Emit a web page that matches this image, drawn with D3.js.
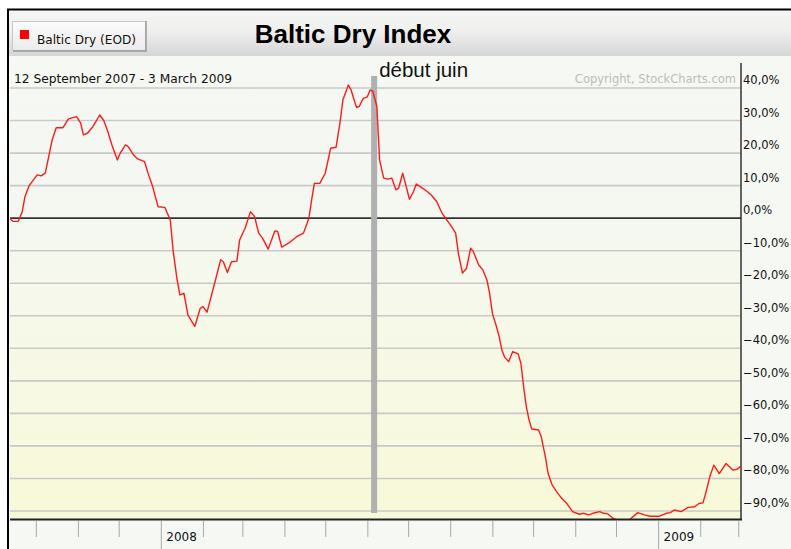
<!DOCTYPE html>
<html>
<head>
<meta charset="utf-8">
<script src="https://cdn.jsdelivr.net/npm/d3@7"></script>
<style>
  body { margin: 0; background: #fff; }
  text { font-family: "DejaVu Sans", Verdana, sans-serif; }
</style>
</head>
<body>
<div id="chart"></div>
<script>
// Baltic Dry Index, % change since 12 Sep 2007
const dates = [
  '2007-09-12','2007-09-14','2007-09-18','2007-09-21','2007-09-23','2007-09-26',
  '2007-10-02','2007-10-05','2007-10-08','2007-10-10','2007-10-13','2007-10-16',
  '2007-10-21','2007-10-25','2007-10-31','2007-11-03','2007-11-05','2007-11-08',
  '2007-11-12','2007-11-17','2007-11-20','2007-11-23','2007-11-26','2007-11-30',
  '2007-12-02','2007-12-06','2007-12-08','2007-12-12','2007-12-15','2007-12-20',
  '2007-12-23','2007-12-26','2007-12-30','2008-01-04','2008-01-08','2008-01-10',
  '2008-01-13','2008-01-15','2008-01-18','2008-01-21','2008-01-26','2008-01-30',
  '2008-02-01','2008-02-04','2008-02-09','2008-02-14','2008-02-16','2008-02-19',
  '2008-02-22','2008-02-26','2008-02-28','2008-03-03','2008-03-07','2008-03-10',
  '2008-03-13','2008-03-16','2008-03-20','2008-03-25','2008-03-27','2008-03-30',
  '2008-04-04','2008-04-10','2008-04-15','2008-04-19','2008-04-21','2008-04-23',
  '2008-04-27','2008-05-01','2008-05-05','2008-05-09','2008-05-12','2008-05-14',
  '2008-05-18','2008-05-20','2008-05-24','2008-05-26','2008-05-29','2008-06-01',
  '2008-06-03','2008-06-05','2008-06-08','2008-06-10','2008-06-13','2008-06-16',
  '2008-06-19','2008-06-22','2008-06-24','2008-06-27','2008-06-29','2008-07-02',
  '2008-07-05','2008-07-07','2008-07-11','2008-07-15','2008-07-18','2008-07-22',
  '2008-07-26','2008-07-29','2008-08-02','2008-08-05','2008-08-07','2008-08-10',
  '2008-08-13','2008-08-16','2008-08-18','2008-08-22','2008-08-25','2008-08-28',
  '2008-08-30','2008-09-01','2008-09-04','2008-09-06','2008-09-08','2008-09-10',
  '2008-09-13','2008-09-16','2008-09-20','2008-09-22','2008-09-24','2008-09-26',
  '2008-09-28','2008-09-30','2008-10-05','2008-10-07','2008-10-10','2008-10-12',
  '2008-10-15','2008-10-18','2008-10-22','2008-10-26','2008-10-30','2008-11-04',
  '2008-11-07','2008-11-11','2008-11-14','2008-11-19','2008-11-22','2008-11-25',
  '2008-11-29','2008-12-03','2008-12-07','2008-12-11','2008-12-12','2008-12-17',
  '2008-12-22','2008-12-26','2009-01-02','2009-01-07','2009-01-10','2009-01-13',
  '2009-01-18','2009-01-23','2009-01-28','2009-01-31','2009-02-03','2009-02-05',
  '2009-02-08','2009-02-11','2009-02-15','2009-02-20','2009-02-25','2009-02-28',
  '2009-03-03'
];
const values = [
  0, -1, -1, 2, 6.6, 9.9,
  13.3, 13, 13.9, 17.9, 24, 27.8,
  27.8, 30.5, 31.2, 29.2, 25.6, 26.1,
  28.1, 31.7, 30, 26.6, 22.5, 17.9,
  19.9, 22.5, 22, 19.4, 18.2, 17.4,
  13.3, 9.7, 3.5, 3.3, -0.6, -9.8,
  -19, -23.6, -23.1, -29.8, -33.3, -27.7,
  -27.2, -28.9, -21, -12.8, -13.4, -16.7,
  -13.4, -13.2, -6.7, -3.1, 2, 0.5,
  -4.6, -6.2, -9.5, -3.9, -4.1, -8.9,
  -7.7, -5.7, -4.6, 0, 5.6, 10.7,
  10.7, 13.8, 21.5, 21.8, 29.7, 36.3,
  40.9, 39.4, 34.1, 34.3, 36.8, 37.3,
  39.4, 39, 34.3, 17.9, 12.3, 12,
  12.3, 8.7, 9.2, 13.8, 10.7, 5.8,
  8.2, 10.5, 9.4, 8.2, 7.1, 5.1,
  1.5, -0.3, -2.6, -4.6, -10.8, -16.9,
  -15.4, -9.2, -10.3, -14.4, -15.9, -19,
  -23.1, -29.2, -33.3, -36.4, -40.5, -42.7,
  -44.1, -41, -41.7, -44.6, -51.8, -57.9,
  -62, -64.8, -65.1, -67.2, -73.3, -78.4,
  -82, -83.9, -86.1, -87.8, -90.2, -91,
  -90.7, -91.2, -90.7, -90.2, -90.7, -90.9,
  -92.3, -93, -93.2, -92.8, -92.3, -90.5,
  -91.2, -91.6, -91.6, -90.7, -90.5, -89.7,
  -90.2, -88.9, -88.7, -87.7, -87.5, -84.6,
  -79.5, -75.9, -78.5, -75.4, -77.4, -77.2,
  -76.2
];
const yTicks = [40, 30, 20, 10, 0, -10, -20, -30, -40, -50, -60, -70, -80, -90];
const chartTitle = 'Baltic Dry Index';
const seriesName = 'Baltic Dry (EOD)';
const dateRange = '12 September 2007 - 3 March 2009';
const copyright = 'Copyright, StockCharts.com';
const markerDate = '2008-06-06';
const markerLabel = 'début juin';

var W = 791, H = 549;
var plot = { left: 10, right: 741, top: 63, bottom: 519 };
var parse = d3.timeParse('%Y-%m-%d');
var arial = '"Liberation Sans", Arial, sans-serif';

var svg = d3.select('#chart').append('svg')
  .attr('width', W).attr('height', H);

var defs = svg.append('defs');

var headGrad = defs.append('linearGradient').attr('id', 'headGrad')
  .attr('x1', 0).attr('y1', 0).attr('x2', 0).attr('y2', 1);
headGrad.append('stop').attr('offset', '0').attr('stop-color', '#f5f7f4');
headGrad.append('stop').attr('offset', '0.45').attr('stop-color', '#eeefee');
headGrad.append('stop').attr('offset', '1').attr('stop-color', '#d5d6d5');

var plotGrad = defs.append('linearGradient').attr('id', 'plotGrad')
  .attr('x1', 0).attr('y1', 0).attr('x2', 0).attr('y2', 1);
plotGrad.append('stop').attr('offset', '0').attr('stop-color', '#f5f8f3');
plotGrad.append('stop').attr('offset', '0.34').attr('stop-color', '#f5f8f1');
plotGrad.append('stop').attr('offset', '1').attr('stop-color', '#f8f9d8');

var btnGrad = defs.append('linearGradient').attr('id', 'btnGrad')
  .attr('x1', 0).attr('y1', 0).attr('x2', 0).attr('y2', 1);
btnGrad.append('stop').attr('offset', '0').attr('stop-color', '#fbfbfb');
btnGrad.append('stop').attr('offset', '1').attr('stop-color', '#ebebeb');

defs.append('clipPath').attr('id', 'plotClip')
  .append('rect')
  .attr('x', plot.left).attr('y', plot.top)
  .attr('width', plot.right - plot.left).attr('height', plot.bottom - plot.top);

// panel background + frame
svg.append('rect').attr('x', 8).attr('y', 10).attr('width', W).attr('height', H)
  .attr('fill', '#f5f8f3');
svg.append('rect').attr('x', 8).attr('y', 10).attr('width', W).attr('height', 46)
  .attr('fill', 'url(#headGrad)');
svg.append('rect').attr('x', plot.left).attr('y', plot.top)
  .attr('width', plot.right - plot.left).attr('height', plot.bottom - plot.top)
  .attr('fill', 'url(#plotGrad)');
svg.append('path')
  .attr('d', 'M8,' + H + 'V9.5H' + W)
  .attr('fill', 'none').attr('stroke', '#000').attr('stroke-width', 2);

// legend button
var btn = svg.append('g');
btn.append('rect').attr('x', 12.5).attr('y', 21.5).attr('width', 133).attr('height', 29)
  .attr('fill', 'url(#btnGrad)').attr('stroke', '#c8c8c8');
btn.append('path').attr('d', 'M13,51H146V21')
  .attr('fill', 'none').attr('stroke', '#9a9a9a').attr('stroke-width', 1.5);
btn.append('rect').attr('x', 20).attr('y', 30).attr('width', 9).attr('height', 9)
  .attr('fill', '#ff0000');
btn.append('text').attr('x', 37).attr('y', 44)
  .attr('font-size', 12).attr('fill', '#111')
  .attr('textLength', 99).attr('lengthAdjust', 'spacingAndGlyphs')
  .text(seriesName);

svg.append('text').attr('x', 353).attr('y', 43)
  .attr('text-anchor', 'middle')
  .style('font-family', arial)
  .attr('font-weight', 'bold').attr('font-size', 26)
  .attr('fill', '#000')
  .text(chartTitle);

svg.append('text').attr('x', 14).attr('y', 83)
  .attr('font-size', 11.5).attr('fill', '#111')
  .attr('textLength', 218).attr('lengthAdjust', 'spacingAndGlyphs')
  .text(dateRange);

svg.append('text').attr('x', 736).attr('y', 83)
  .attr('text-anchor', 'end')
  .attr('font-size', 11.5).attr('fill', '#bdbdbd')
  .text(copyright);

// scales
var x = d3.scaleTime()
  .domain([parse(dates[0]), parse(dates[dates.length - 1])])
  .range([plot.left, plot.right]);
var y = d3.scaleLinear().domain([-90, 40]).range([511, 88]);

// gridlines
svg.append('g').selectAll('line').data(yTicks).join('line')
  .attr('x1', plot.left).attr('x2', plot.right)
  .attr('y1', d => y(d)).attr('y2', d => y(d))
  .attr('stroke', d => d === 0 ? '#333' : '#c9c9c9')
  .attr('stroke-width', 1.6);

// right axis labels
var fmt = d3.formatLocale({ decimal: ',', thousands: '.', grouping: [3], currency: ['', '%'] });
var pct = fmt.format('.1f');
var yAxis = d3.axisRight(y).tickValues(yTicks).tickSize(0).tickPadding(2)
  .tickFormat(d => pct(d) + '%');
var yg = svg.append('g').attr('transform', 'translate(' + plot.right + ',0)').call(yAxis);
yg.select('.domain').remove();
yg.selectAll('text')
  .attr('font-size', 11.5).attr('fill', '#111')
  .attr('dy', null).attr('y', -4.5);

svg.append('line')
  .attr('x1', plot.right).attr('x2', plot.right)
  .attr('y1', plot.top).attr('y2', plot.bottom + 1)
  .attr('stroke', '#333').attr('stroke-width', 1.5);

// marker bar
var mx = x(parse(markerDate));
svg.append('rect').attr('x', mx - 3).attr('y', 76)
  .attr('width', 6).attr('height', 513 - 76)
  .attr('fill', '#b0b0b0');
svg.append('text').attr('x', mx + 5).attr('y', 77)
  .style('font-family', arial)
  .attr('font-size', 20.5).attr('fill', '#111')
  .text(markerLabel);

// series line
var line = d3.line()
  .x((d, i) => x(parse(dates[i])))
  .y(d => y(d));
svg.append('path')
  .datum(values)
  .attr('clip-path', 'url(#plotClip)')
  .attr('d', line)
  .attr('fill', 'none')
  .attr('stroke', '#ff1a1a')
  .attr('stroke-width', 1.4)
  .attr('stroke-linejoin', 'round');

// bottom axis
var months = x.ticks(d3.timeMonth.every(1));
var xAxis = d3.axisBottom(x).tickValues(months).tickSize(0).tickFormat('');
var xg = svg.append('g').attr('transform', 'translate(0,' + plot.bottom + ')').call(xAxis);
xg.select('.domain').remove();
xg.selectAll('.tick line')
  .attr('y1', 2)
  .attr('y2', d => d.getMonth() === 0 ? 31 : 18)
  .attr('stroke', '#a8a8a8');
xg.selectAll('.tick text')
  .attr('text-anchor', 'start').attr('x', 5).attr('y', 22).attr('dy', null)
  .attr('font-size', 12).attr('fill', '#111')
  .text(d => d.getMonth() === 0 ? d3.timeFormat('%Y')(d) : '');

svg.append('line')
  .attr('x1', plot.left).attr('x2', plot.right + 1)
  .attr('y1', plot.bottom + 0.5).attr('y2', plot.bottom + 0.5)
  .attr('stroke', '#222').attr('stroke-width', 2);
</script>
</body>
</html>
